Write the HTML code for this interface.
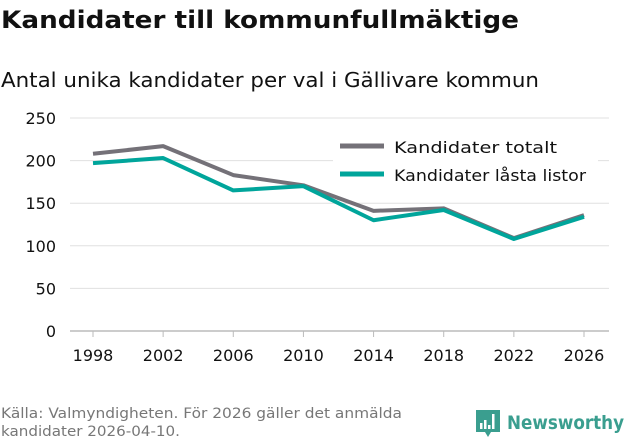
<!DOCTYPE html>
<html><head><meta charset="utf-8"><style>
html,body{margin:0;padding:0;background:#fff;width:631px;height:439px;overflow:hidden}
svg{display:block;font-family:"DejaVu Sans","Liberation Sans",sans-serif}
</style></head><body>
<svg id="chart" width="631" height="439">
<text x="1" y="28" font-size="24" font-weight="bold" fill="#111" textLength="518" lengthAdjust="spacingAndGlyphs">Kandidater till kommunfullmäktige</text>
<text x="1" y="87" font-size="20" fill="#111" textLength="538" lengthAdjust="spacingAndGlyphs">Antal unika kandidater per val i Gällivare kommun</text>
<g id="grid"></g><g id="yt"></g><g id="xt"></g><g id="lines"></g>
<g>
<rect x="333" y="128" width="265" height="57" fill="#fff"/>
<line x1="340" y1="146" x2="384" y2="146" stroke="#747178" stroke-width="5"/>
<text x="394" y="153" font-size="16" fill="#111" textLength="163" lengthAdjust="spacingAndGlyphs">Kandidater totalt</text>
<line x1="340" y1="174" x2="384" y2="174" stroke="#00a59b" stroke-width="5"/>
<text x="394" y="181" font-size="16" fill="#111" textLength="192" lengthAdjust="spacingAndGlyphs">Kandidater låsta listor</text>
</g>
<text x="1" y="418" font-size="14" fill="#777" textLength="401" lengthAdjust="spacingAndGlyphs">Källa: Valmyndigheten. För 2026 gäller det anmälda</text>
<text x="1" y="436" font-size="14" fill="#777" textLength="179" lengthAdjust="spacingAndGlyphs">kandidater 2026-04-10.</text>
<g>
<path d="M476 410h24v22h-9l-3 5l-3-5h-9z" fill="#3a9e8f"/>
<rect x="480" y="423" width="2.5" height="6" fill="#fff"/><rect x="484" y="420" width="2.5" height="9" fill="#fff"/><rect x="488" y="425" width="2.5" height="4" fill="#fff"/><rect x="492" y="414" width="2.5" height="15" fill="#fff"/>
<text x="507" y="429" font-size="19" font-weight="bold" fill="#3a9e8f" textLength="117" lengthAdjust="spacingAndGlyphs">Newsworthy</text>
</g>
</svg>
<script>
const years=[1998,2002,2006,2010,2014,2018,2022,2026];
const totalt=[208,217,183,171,141,144,109,136];
const lasta=[197,203,165,170,130,142,108,134];
const yTicks=[0,50,100,150,200,250];
const ns="http://www.w3.org/2000/svg";
const X=y=>93+(y-1998)/28*491;
const Y=v=>331-v*213/250;
function mk(t,a,p){const e=document.createElementNS(ns,t);for(const k in a)e.setAttribute(k,a[k]);p.appendChild(e);return e;}
const grid=document.getElementById('grid'),yt=document.getElementById('yt'),xt=document.getElementById('xt'),lines=document.getElementById('lines');
yTicks.forEach(v=>{
 const l=mk('line',{x1:70,x2:609,y1:Y(v),y2:Y(v),stroke:v===0?'#bbb':'#e0e0e0','stroke-width':v===0?1.5:1},grid);
 
 
 const t=mk('text',{x:56,y:Y(v)+6,'text-anchor':'end','font-size':16,fill:'#111'},yt);
 t.textContent=v;
 
 
});
years.forEach(y=>{
 const l=mk('line',{x1:X(y),x2:X(y),y1:331,y2:337,stroke:'#bbb'},xt);
 
 
 const t=mk('text',{x:X(y),y:361,'text-anchor':'middle','font-size':16,fill:'#111'},xt);
 t.textContent=y;
 
 
});
[[totalt,'#747178','line-totalt'],[lasta,'#00a59b','line-lasta']].forEach(([d,c,n])=>{
 const p=mk('polyline',{points:d.map((v,i)=>X(years[i])+','+Y(v)).join(' '),fill:'none',stroke:c,'stroke-width':4,'stroke-linejoin':'round'},lines);
 
 
});
</script>
</body></html>
